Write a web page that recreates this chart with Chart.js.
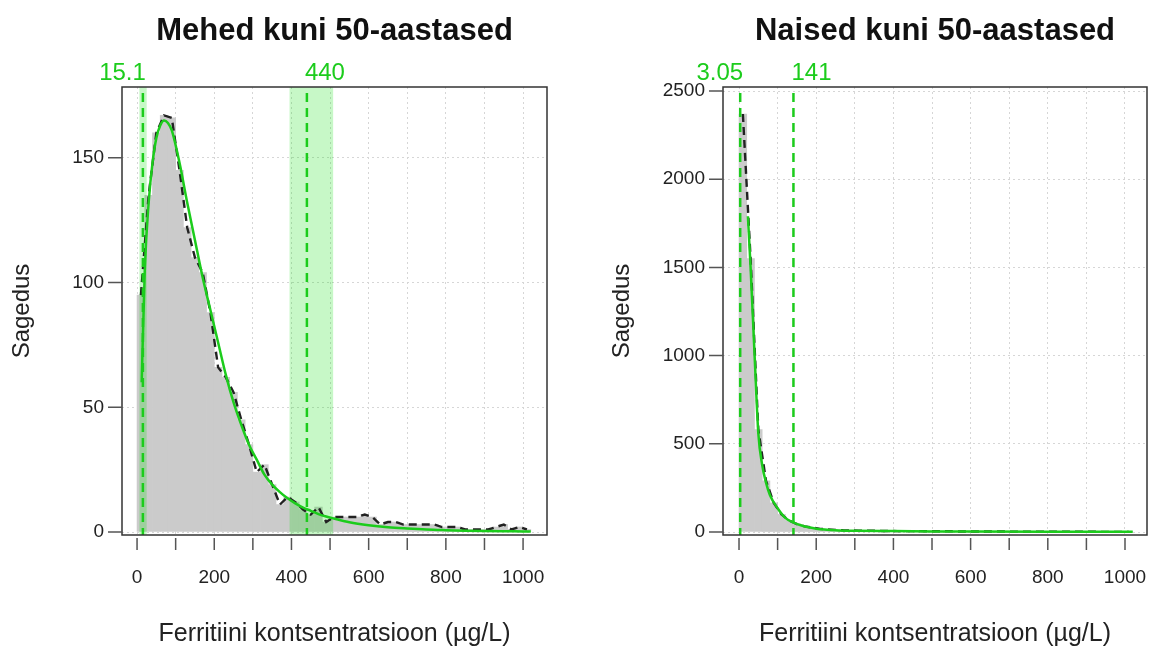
<!DOCTYPE html>
<html>
<head>
<meta charset="utf-8">
<script src="https://cdn.jsdelivr.net/npm/chart.js@4.4.1/dist/chart.umd.min.js"></script>
<style>
  html, body { margin: 0; padding: 0; background: #fff; }
  #wrap { position: relative; width: 1152px; height: 650px; }
  canvas { position: absolute; top: 0; }
</style>
</head>
<body>
<div id="wrap">
  <canvas id="mehed" width="576" height="650" style="left:0"></canvas>
  <canvas id="naised" width="576" height="650" style="left:576px"></canvas>
</div>
<script>
// histogrammi tulpade keskpunktid (µg/L), samm 20
const binMids = [10, 30, 50, 70, 90, 110, 130, 150, 170, 190,
  210, 230, 250, 270, 290, 310, 330, 350, 370, 390,
  410, 430, 450, 470, 490, 510, 530, 550, 570, 590,
  610, 630, 650, 670, 690, 710, 730, 750, 770, 790,
  810, 830, 850, 870, 890, 910, 930, 950, 970, 990, 1010];

const mehedHist = [95, 135, 160, 167, 166, 145, 122, 110, 104, 88,
  66, 62, 56, 45, 35, 24, 27, 19, 11, 14,
  12, 9, 7, 10, 4, 6, 6, 6, 6, 7,
  6, 3, 4, 4, 3, 3, 3, 3, 3, 2,
  2, 2, 1, 1, 1, 1, 2, 3, 1, 2, 1];

const naisedHist = [2370, 1550, 580, 290, 165, 100, 65, 45, 32, 25,
  18, 15, 12, 10, 9, 8, 7, 7, 6, 6,
  5, 5, 5, 5, 4, 4, 4, 4, 3, 3,
  3, 3, 3, 3, 3, 2, 2, 2, 2, 2,
  2, 2, 2, 2, 2, 2, 1, 1, 1, 1, 1];

// sobitatud jaotus
const mehedFitX = [12, 20, 30, 40, 50, 60, 70, 80, 90, 110, 130, 150, 170, 190, 210, 230, 250, 270, 290, 310,
  330, 350, 370, 390, 410, 430, 450, 470, 490, 510, 550, 600, 650, 700, 750, 800, 850, 900, 950, 1000, 1020];
const mehedFitY = [60, 105, 132, 148, 158, 163, 165, 164, 161, 148, 132, 117, 102, 89, 76, 63, 52, 43, 35, 29,
  23, 19, 16, 13.5, 11.5, 9.8, 8.5, 7.2, 6.2, 5.4, 3.9, 2.7, 1.9, 1.4, 1.0, 0.75, 0.55, 0.4, 0.3, 0.25, 0.2];

const naisedFitX = [23, 30, 40, 50, 60, 70, 80, 100, 120, 140, 160, 180, 200, 250, 300, 400, 500, 600, 800, 1000, 1020];
const naisedFitY = [1790, 1500, 1020, 560, 380, 280, 210, 135, 80, 55, 38, 27, 19, 10, 7, 5, 3.5, 2.5, 1.5, 1, 1];

// referentspiirid
const mehedLimits = [15.1, 440];
const mehedLimitLabels = ['15.1', '440'];
const mehedBands = [[6, 25], [395, 508]];
const naisedLimits = [3.05, 141];
const naisedLimitLabels = ['3.05', '141'];
const naisedBands = [];

const xTicks = [0, 100, 200, 300, 400, 500, 600, 700, 800, 900, 1000];
const mehedYTicks = [0, 50, 100, 150];
const naisedYTicks = [0, 500, 1000, 1500, 2000, 2500];

const GREEN = '#1ccc1c';
const FONT = "'Liberation Sans', Arial, Helvetica, sans-serif";
Chart.defaults.font.family = FONT;
Chart.defaults.color = '#222';

const deco = {
  id: 'deco',
  afterDatasetDraw(chart, args, opts) {
    if (chart.data.datasets[args.index].type !== 'bar') return;
    const {ctx, chartArea: a, scales: {x}} = chart;
    ctx.save();
    ctx.fillStyle = 'rgba(0,225,0,0.22)';
    opts.bands.forEach(([lo, hi]) => {
      const x0 = x.getPixelForValue(lo), x1 = x.getPixelForValue(hi);
      ctx.fillRect(x0, a.top, x1 - x0, a.bottom - a.top);
    });
    ctx.restore();
  },
  afterDatasetsDraw(chart, args, opts) {
    const {ctx, chartArea: a, scales: {x}} = chart;
    ctx.save();
    ctx.strokeStyle = GREEN;
    ctx.lineWidth = 2.5;
    ctx.setLineDash([9, 6]);
    opts.limits.forEach(v => {
      const px = x.getPixelForValue(v);
      ctx.beginPath();
      ctx.moveTo(px, a.top + 6);
      ctx.lineTo(px, a.bottom);
      ctx.stroke();
    });
    ctx.restore();
  },
  afterDraw(chart, args, opts) {
    const {ctx, chartArea: a, scales: {x, y}} = chart;
    ctx.save();
    // kast
    ctx.strokeStyle = '#333';
    ctx.lineWidth = 1.5;
    ctx.strokeRect(a.left, a.top, a.right - a.left, a.bottom - a.top);
    // tikid
    ctx.strokeStyle = '#555';
    ctx.beginPath();
    x.ticks.forEach(t => {
      const px = x.getPixelForValue(t.value);
      ctx.moveTo(px, a.bottom + 3);
      ctx.lineTo(px, a.bottom + 15);
    });
    y.ticks.forEach(t => {
      const py = y.getPixelForValue(t.value);
      ctx.moveTo(a.left - 14, py);
      ctx.lineTo(a.left, py);
    });
    ctx.stroke();
    // pealkiri
    ctx.fillStyle = '#111';
    ctx.font = 'bold 31px ' + FONT;
    ctx.textAlign = 'center';
    ctx.textBaseline = 'middle';
    ctx.fillText(opts.title, (a.left + a.right) / 2, 31);
    // piiride sildid
    ctx.fillStyle = GREEN;
    ctx.font = '24px ' + FONT;
    opts.limits.forEach((v, i) => {
      const px = x.getPixelForValue(v);
      ctx.textAlign = i === 0 ? 'right' : 'left';
      ctx.fillText(opts.labels[i], i === 0 ? px + 3 : px - 2, 73);
    });
    ctx.restore();
  }
};

function makeChart(id, hist, fitX, fitY, cfg) {
  const histData = binMids.map((m, i) => ({x: m, y: hist[i]}));
  const fitData = fitX.map((v, i) => ({x: v, y: fitY[i]}));
  return new Chart(document.getElementById(id), {
    type: 'line',
    data: {
      datasets: [
        {
          type: 'line', data: fitData, borderColor: GREEN, borderWidth: 2.5,
          pointRadius: 0, cubicInterpolationMode: 'monotone', order: 1
        },
        {
          type: 'line', data: histData, borderColor: '#222', borderWidth: 2.4,
          borderDash: [8, 5], pointRadius: 0, tension: 0, order: 2
        },
        {
          type: 'bar', data: histData, backgroundColor: '#cbcbcb', borderWidth: 0,
          barPercentage: 1, categoryPercentage: 1, order: 3
        }
      ]
    },
    options: {
      responsive: false,
      animation: false,
      layout: {padding: {top: 87, right: cfg.padRight, bottom: 0, left: 0}},
      plugins: {
        legend: {display: false},
        tooltip: {enabled: false},
        deco: {title: cfg.title, limits: cfg.limits, labels: cfg.labels, bands: cfg.bands}
      },
      scales: {
        x: {
          type: 'linear', min: cfg.xMin, max: cfg.xMax, offset: false,
          afterBuildTicks: s => { s.ticks = xTicks.map(v => ({value: v})); },
          afterFit: s => { s.height = 115; s.paddingLeft = 0; s.paddingRight = 0; },
          grid: {color: '#d6d6d6', lineWidth: 1, drawTicks: false, offset: false},
          border: {display: false, dash: [2, 3]},
          ticks: {
            font: {size: 19}, color: '#222', padding: 31, autoSkip: false, maxRotation: 0,
            callback: v => (v % 200 === 0 ? String(v) : '')
          },
          title: {
            display: true, text: 'Ferritiini kontsentratsioon (µg/L)',
            font: {size: 25}, color: '#222', padding: {top: 0, bottom: 1}
          }
        },
        y: {
          min: cfg.yMin, max: cfg.yMax,
          afterBuildTicks: s => { s.ticks = cfg.yTicks.map(v => ({value: v})); },
          afterFit: s => { s.width = cfg.yWidth; s.paddingTop = 0; s.paddingBottom = 0; },
          grid: {color: '#d6d6d6', lineWidth: 1, drawTicks: false},
          border: {display: false, dash: [2, 3]},
          ticks: {font: {size: 19}, color: '#222', padding: 18, autoSkip: false, callback: v => String(v)},
          title: {
            display: true, text: 'Sagedus', font: {size: 24}, color: '#222',
            padding: {top: cfg.yTitlePad, bottom: 0}
          }
        }
      }
    },
    plugins: [deco]
  });
}

makeChart('mehed', mehedHist, mehedFitX, mehedFitY, {
  title: 'Mehed kuni 50-aastased', limits: mehedLimits, labels: mehedLimitLabels, bands: mehedBands,
  xMin: -39, xMax: 1062, yMin: -1.2, yMax: 178.4, yTicks: mehedYTicks,
  yWidth: 122, padRight: 29, yTitlePad: 8
});
makeChart('naised', naisedHist, naisedFitX, naisedFitY, {
  title: 'Naised kuni 50-aastased', limits: naisedLimits, labels: naisedLimitLabels, bands: naisedBands,
  xMin: -41.5, xMax: 1057, yMin: -17, yMax: 2523, yTicks: naisedYTicks,
  yWidth: 147, padRight: 5, yTitlePad: 32
});
</script>
</body>
</html>
